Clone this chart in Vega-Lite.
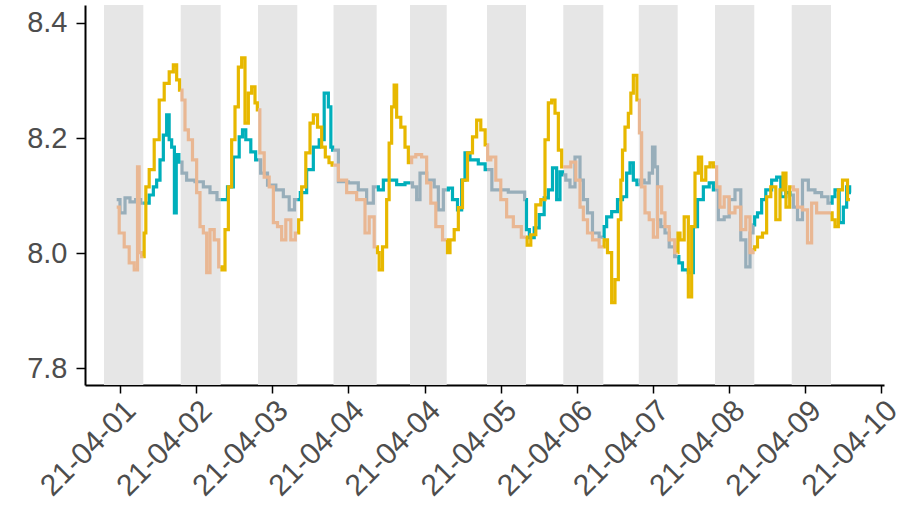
{
  "$schema": "https://vega.github.io/schema/vega-lite/v6.json",
  "width": 799,
  "height": 380,
  "autosize": {"type": "none"},
  "padding": {"left": 85, "top": 5, "right": 38, "bottom": 127},
  "background": "white",
  "config": {"view": {"stroke": null}, "font": "Liberation Sans"},
  "datasets": {
    "bands": [
      {"start": 3.86, "end": 15.01},
      {"start": 25.62, "end": 36.96},
      {"start": 47.54, "end": 58.69},
      {"start": 68.96, "end": 81.21},
      {"start": 90.66, "end": 101.07},
      {"start": 112.5, "end": 123.56},
      {"start": 134.14, "end": 145.49},
      {"start": 155.56, "end": 166.59},
      {"start": 177.17, "end": 188.32},
      {"start": 198.93, "end": 210.07}
    ],
    "ph": [
      {"t": 7.46, "v": 8.093, "g": "A-dark", "d": 1},
      {"t": 9.34, "v": 8.070, "g": "A-dark", "d": 1},
      {"t": 10.30, "v": 8.096, "g": "A-dark", "d": 1},
      {"t": 12.17, "v": 8.089, "g": "A-dark", "d": 1},
      {"t": 13.50, "v": 8.093, "g": "A-dark", "d": 1},
      {"t": 15.01, "v": 8.087, "g": "A-dark", "d": 1},
      {"t": 15.01, "v": 8.087, "g": "A-light", "d": 1},
      {"t": 15.97, "v": 8.087, "g": "A-light", "d": 1},
      {"t": 17.39, "v": 8.101, "g": "A-light", "d": 1},
      {"t": 18.33, "v": 8.115, "g": "A-light", "d": 1},
      {"t": 19.26, "v": 8.127, "g": "A-light", "d": 1},
      {"t": 20.23, "v": 8.162, "g": "A-light", "d": 1},
      {"t": 21.16, "v": 8.205, "g": "A-light", "d": 1},
      {"t": 22.10, "v": 8.240, "g": "A-light", "d": 1},
      {"t": 22.58, "v": 8.197, "g": "A-light", "d": 1},
      {"t": 23.52, "v": 8.184, "g": "A-light", "d": 1},
      {"t": 24.14, "v": 8.070, "g": "A-light", "d": 1},
      {"t": 24.57, "v": 8.171, "g": "A-light", "d": 1},
      {"t": 25.62, "v": 8.158, "g": "A-light", "d": 1},
      {"t": 25.62, "v": 8.158, "g": "A-dark", "d": 2},
      {"t": 26.35, "v": 8.139, "g": "A-dark", "d": 2},
      {"t": 28.25, "v": 8.127, "g": "A-dark", "d": 2},
      {"t": 31.09, "v": 8.124, "g": "A-dark", "d": 2},
      {"t": 32.99, "v": 8.115, "g": "A-dark", "d": 2},
      {"t": 34.86, "v": 8.105, "g": "A-dark", "d": 2},
      {"t": 36.96, "v": 8.093, "g": "A-dark", "d": 2},
      {"t": 36.96, "v": 8.093, "g": "A-light", "d": 2},
      {"t": 38.18, "v": 8.093, "g": "A-light", "d": 2},
      {"t": 39.60, "v": 8.115, "g": "A-light", "d": 2},
      {"t": 41.50, "v": 8.167, "g": "A-light", "d": 2},
      {"t": 42.92, "v": 8.202, "g": "A-light", "d": 2},
      {"t": 43.37, "v": 8.214, "g": "A-light", "d": 2},
      {"t": 44.79, "v": 8.197, "g": "A-light", "d": 2},
      {"t": 46.21, "v": 8.176, "g": "A-light", "d": 2},
      {"t": 47.54, "v": 8.162, "g": "A-light", "d": 2},
      {"t": 47.54, "v": 8.162, "g": "A-dark", "d": 3},
      {"t": 49.05, "v": 8.139, "g": "A-dark", "d": 3},
      {"t": 51.43, "v": 8.118, "g": "A-dark", "d": 3},
      {"t": 53.78, "v": 8.110, "g": "A-dark", "d": 3},
      {"t": 55.68, "v": 8.098, "g": "A-dark", "d": 3},
      {"t": 57.10, "v": 8.075, "g": "A-dark", "d": 3},
      {"t": 58.69, "v": 8.093, "g": "A-dark", "d": 3},
      {"t": 58.69, "v": 8.093, "g": "A-light", "d": 3},
      {"t": 60.39, "v": 8.105, "g": "A-light", "d": 3},
      {"t": 62.29, "v": 8.145, "g": "A-light", "d": 3},
      {"t": 64.19, "v": 8.184, "g": "A-light", "d": 3},
      {"t": 65.61, "v": 8.197, "g": "A-light", "d": 3},
      {"t": 67.03, "v": 8.278, "g": "A-light", "d": 3},
      {"t": 67.97, "v": 8.254, "g": "A-light", "d": 3},
      {"t": 68.45, "v": 8.184, "g": "A-light", "d": 3},
      {"t": 68.96, "v": 8.179, "g": "A-light", "d": 3},
      {"t": 68.96, "v": 8.179, "g": "A-dark", "d": 4},
      {"t": 71.74, "v": 8.124, "g": "A-dark", "d": 4},
      {"t": 74.58, "v": 8.122, "g": "A-dark", "d": 4},
      {"t": 77.41, "v": 8.110, "g": "A-dark", "d": 4},
      {"t": 79.31, "v": 8.087, "g": "A-dark", "d": 4},
      {"t": 81.21, "v": 8.115, "g": "A-dark", "d": 4},
      {"t": 81.21, "v": 8.115, "g": "A-light", "d": 4},
      {"t": 82.15, "v": 8.110, "g": "A-light", "d": 4},
      {"t": 84.05, "v": 8.127, "g": "A-light", "d": 4},
      {"t": 85.92, "v": 8.127, "g": "A-light", "d": 4},
      {"t": 87.82, "v": 8.119, "g": "A-light", "d": 4},
      {"t": 90.66, "v": 8.122, "g": "A-light", "d": 4},
      {"t": 90.66, "v": 8.122, "g": "A-dark", "d": 5},
      {"t": 92.08, "v": 8.115, "g": "A-dark", "d": 5},
      {"t": 93.01, "v": 8.093, "g": "A-dark", "d": 5},
      {"t": 93.98, "v": 8.139, "g": "A-dark", "d": 5},
      {"t": 96.81, "v": 8.127, "g": "A-dark", "d": 5},
      {"t": 98.23, "v": 8.115, "g": "A-dark", "d": 5},
      {"t": 99.17, "v": 8.075, "g": "A-dark", "d": 5},
      {"t": 101.07, "v": 8.110, "g": "A-dark", "d": 5},
      {"t": 101.07, "v": 8.110, "g": "A-light", "d": 5},
      {"t": 102.00, "v": 8.113, "g": "A-light", "d": 5},
      {"t": 103.42, "v": 8.093, "g": "A-light", "d": 5},
      {"t": 104.84, "v": 8.075, "g": "A-light", "d": 5},
      {"t": 105.78, "v": 8.127, "g": "A-light", "d": 5},
      {"t": 106.74, "v": 8.174, "g": "A-light", "d": 5},
      {"t": 108.61, "v": 8.162, "g": "A-light", "d": 5},
      {"t": 111.45, "v": 8.155, "g": "A-light", "d": 5},
      {"t": 112.50, "v": 8.145, "g": "A-light", "d": 5},
      {"t": 112.50, "v": 8.145, "g": "A-dark", "d": 6},
      {"t": 115.25, "v": 8.110, "g": "A-dark", "d": 6},
      {"t": 117.12, "v": 8.110, "g": "A-dark", "d": 6},
      {"t": 119.96, "v": 8.106, "g": "A-dark", "d": 6},
      {"t": 122.80, "v": 8.106, "g": "A-dark", "d": 6},
      {"t": 123.56, "v": 8.093, "g": "A-dark", "d": 6},
      {"t": 123.56, "v": 8.093, "g": "A-light", "d": 6},
      {"t": 123.84, "v": 8.041, "g": "A-light", "d": 6},
      {"t": 125.18, "v": 8.027, "g": "A-light", "d": 6},
      {"t": 126.60, "v": 8.044, "g": "A-light", "d": 6},
      {"t": 128.01, "v": 8.067, "g": "A-light", "d": 6},
      {"t": 129.43, "v": 8.096, "g": "A-light", "d": 6},
      {"t": 130.37, "v": 8.110, "g": "A-light", "d": 6},
      {"t": 131.79, "v": 8.148, "g": "A-light", "d": 6},
      {"t": 132.72, "v": 8.093, "g": "A-light", "d": 6},
      {"t": 133.69, "v": 8.141, "g": "A-light", "d": 6},
      {"t": 134.14, "v": 8.136, "g": "A-light", "d": 6},
      {"t": 134.14, "v": 8.136, "g": "A-dark", "d": 7},
      {"t": 135.56, "v": 8.127, "g": "A-dark", "d": 7},
      {"t": 136.52, "v": 8.115, "g": "A-dark", "d": 7},
      {"t": 138.40, "v": 8.167, "g": "A-dark", "d": 7},
      {"t": 139.36, "v": 8.127, "g": "A-dark", "d": 7},
      {"t": 140.30, "v": 8.093, "g": "A-dark", "d": 7},
      {"t": 141.71, "v": 8.070, "g": "A-dark", "d": 7},
      {"t": 143.13, "v": 8.035, "g": "A-dark", "d": 7},
      {"t": 145.49, "v": 8.028, "g": "A-dark", "d": 7},
      {"t": 145.49, "v": 8.028, "g": "A-light", "d": 7},
      {"t": 145.97, "v": 8.046, "g": "A-light", "d": 7},
      {"t": 146.91, "v": 8.063, "g": "A-light", "d": 7},
      {"t": 148.81, "v": 8.072, "g": "A-light", "d": 7},
      {"t": 150.22, "v": 8.093, "g": "A-light", "d": 7},
      {"t": 151.64, "v": 8.098, "g": "A-light", "d": 7},
      {"t": 152.58, "v": 8.139, "g": "A-light", "d": 7},
      {"t": 153.54, "v": 8.157, "g": "A-light", "d": 7},
      {"t": 154.48, "v": 8.127, "g": "A-light", "d": 7},
      {"t": 155.56, "v": 8.119, "g": "A-light", "d": 7},
      {"t": 155.56, "v": 8.119, "g": "A-dark", "d": 8},
      {"t": 156.38, "v": 8.127, "g": "A-dark", "d": 8},
      {"t": 157.80, "v": 8.122, "g": "A-dark", "d": 8},
      {"t": 159.22, "v": 8.139, "g": "A-dark", "d": 8},
      {"t": 159.67, "v": 8.184, "g": "A-dark", "d": 8},
      {"t": 160.63, "v": 8.150, "g": "A-dark", "d": 8},
      {"t": 161.09, "v": 8.058, "g": "A-dark", "d": 8},
      {"t": 162.51, "v": 8.046, "g": "A-dark", "d": 8},
      {"t": 163.47, "v": 8.035, "g": "A-dark", "d": 8},
      {"t": 164.89, "v": 8.011, "g": "A-dark", "d": 8},
      {"t": 166.59, "v": 7.994, "g": "A-dark", "d": 8},
      {"t": 166.59, "v": 7.994, "g": "A-light", "d": 8},
      {"t": 167.24, "v": 7.983, "g": "A-light", "d": 8},
      {"t": 168.66, "v": 7.971, "g": "A-light", "d": 8},
      {"t": 170.56, "v": 7.966, "g": "A-light", "d": 8},
      {"t": 171.50, "v": 8.046, "g": "A-light", "d": 8},
      {"t": 172.92, "v": 8.093, "g": "A-light", "d": 8},
      {"t": 174.82, "v": 8.115, "g": "A-light", "d": 8},
      {"t": 176.24, "v": 8.122, "g": "A-light", "d": 8},
      {"t": 177.17, "v": 8.110, "g": "A-light", "d": 8},
      {"t": 177.17, "v": 8.110, "g": "A-dark", "d": 9},
      {"t": 179.07, "v": 8.058, "g": "A-dark", "d": 9},
      {"t": 180.49, "v": 8.063, "g": "A-dark", "d": 9},
      {"t": 181.91, "v": 8.093, "g": "A-dark", "d": 9},
      {"t": 183.78, "v": 8.110, "g": "A-dark", "d": 9},
      {"t": 185.20, "v": 8.023, "g": "A-dark", "d": 9},
      {"t": 186.62, "v": 7.976, "g": "A-dark", "d": 9},
      {"t": 187.58, "v": 8.035, "g": "A-dark", "d": 9},
      {"t": 188.32, "v": 8.049, "g": "A-dark", "d": 9},
      {"t": 188.32, "v": 8.049, "g": "A-light", "d": 9},
      {"t": 188.52, "v": 8.063, "g": "A-light", "d": 9},
      {"t": 189.94, "v": 8.070, "g": "A-light", "d": 9},
      {"t": 190.87, "v": 8.093, "g": "A-light", "d": 9},
      {"t": 192.29, "v": 8.110, "g": "A-light", "d": 9},
      {"t": 194.19, "v": 8.127, "g": "A-light", "d": 9},
      {"t": 195.13, "v": 8.132, "g": "A-light", "d": 9},
      {"t": 196.54, "v": 8.098, "g": "A-light", "d": 9},
      {"t": 197.96, "v": 8.105, "g": "A-light", "d": 9},
      {"t": 198.93, "v": 8.101, "g": "A-light", "d": 9},
      {"t": 198.93, "v": 8.101, "g": "A-dark", "d": 10},
      {"t": 199.86, "v": 8.080, "g": "A-dark", "d": 10},
      {"t": 201.28, "v": 8.058, "g": "A-dark", "d": 10},
      {"t": 202.70, "v": 8.127, "g": "A-dark", "d": 10},
      {"t": 204.60, "v": 8.110, "g": "A-dark", "d": 10},
      {"t": 206.47, "v": 8.105, "g": "A-dark", "d": 10},
      {"t": 208.37, "v": 8.098, "g": "A-dark", "d": 10},
      {"t": 210.07, "v": 8.087, "g": "A-dark", "d": 10},
      {"t": 210.07, "v": 8.087, "g": "A-light", "d": 10},
      {"t": 210.73, "v": 8.098, "g": "A-light", "d": 10},
      {"t": 211.69, "v": 8.110, "g": "A-light", "d": 10},
      {"t": 213.11, "v": 8.053, "g": "A-light", "d": 10},
      {"t": 214.05, "v": 8.080, "g": "A-light", "d": 10},
      {"t": 214.98, "v": 8.115, "g": "A-light", "d": 10},
      {"t": 215.75, "v": 8.105, "g": "A-light", "d": 10},

      {"t": 7.46, "v": 8.080, "g": "B-dark", "d": 1},
      {"t": 8.88, "v": 8.035, "g": "B-dark", "d": 1},
      {"t": 10.30, "v": 8.011, "g": "B-dark", "d": 1},
      {"t": 11.72, "v": 7.983, "g": "B-dark", "d": 1},
      {"t": 13.14, "v": 7.971, "g": "B-dark", "d": 1},
      {"t": 13.59, "v": 8.150, "g": "B-dark", "d": 1},
      {"t": 14.07, "v": 8.001, "g": "B-dark", "d": 1},
      {"t": 15.01, "v": 7.994, "g": "B-dark", "d": 1},
      {"t": 15.01, "v": 7.994, "g": "B-light", "d": 1},
      {"t": 15.49, "v": 8.035, "g": "B-light", "d": 1},
      {"t": 15.97, "v": 8.115, "g": "B-light", "d": 1},
      {"t": 17.39, "v": 8.145, "g": "B-light", "d": 1},
      {"t": 18.81, "v": 8.197, "g": "B-light", "d": 1},
      {"t": 20.23, "v": 8.266, "g": "B-light", "d": 1},
      {"t": 21.65, "v": 8.295, "g": "B-light", "d": 1},
      {"t": 23.06, "v": 8.315, "g": "B-light", "d": 1},
      {"t": 24.00, "v": 8.327, "g": "B-light", "d": 1},
      {"t": 24.94, "v": 8.301, "g": "B-light", "d": 1},
      {"t": 25.62, "v": 8.283, "g": "B-light", "d": 1},
      {"t": 25.62, "v": 8.283, "g": "B-dark", "d": 2},
      {"t": 26.35, "v": 8.266, "g": "B-dark", "d": 2},
      {"t": 27.32, "v": 8.214, "g": "B-dark", "d": 2},
      {"t": 28.25, "v": 8.197, "g": "B-dark", "d": 2},
      {"t": 29.67, "v": 8.162, "g": "B-dark", "d": 2},
      {"t": 30.61, "v": 8.105, "g": "B-dark", "d": 2},
      {"t": 31.57, "v": 8.046, "g": "B-dark", "d": 2},
      {"t": 32.51, "v": 8.035, "g": "B-dark", "d": 2},
      {"t": 33.45, "v": 7.966, "g": "B-dark", "d": 2},
      {"t": 34.41, "v": 8.041, "g": "B-dark", "d": 2},
      {"t": 35.83, "v": 8.023, "g": "B-dark", "d": 2},
      {"t": 36.96, "v": 7.976, "g": "B-dark", "d": 2},
      {"t": 36.96, "v": 7.976, "g": "B-light", "d": 2},
      {"t": 37.70, "v": 7.971, "g": "B-light", "d": 2},
      {"t": 38.67, "v": 8.041, "g": "B-light", "d": 2},
      {"t": 39.60, "v": 8.115, "g": "B-light", "d": 2},
      {"t": 40.54, "v": 8.197, "g": "B-light", "d": 2},
      {"t": 41.50, "v": 8.254, "g": "B-light", "d": 2},
      {"t": 42.44, "v": 8.323, "g": "B-light", "d": 2},
      {"t": 43.37, "v": 8.339, "g": "B-light", "d": 2},
      {"t": 44.34, "v": 8.226, "g": "B-light", "d": 2},
      {"t": 45.27, "v": 8.278, "g": "B-light", "d": 2},
      {"t": 46.21, "v": 8.289, "g": "B-light", "d": 2},
      {"t": 47.17, "v": 8.261, "g": "B-light", "d": 2},
      {"t": 47.54, "v": 8.249, "g": "B-light", "d": 2},
      {"t": 47.54, "v": 8.249, "g": "B-dark", "d": 3},
      {"t": 48.59, "v": 8.174, "g": "B-dark", "d": 3},
      {"t": 50.01, "v": 8.132, "g": "B-dark", "d": 3},
      {"t": 51.43, "v": 8.115, "g": "B-dark", "d": 3},
      {"t": 52.37, "v": 8.053, "g": "B-dark", "d": 3},
      {"t": 53.78, "v": 8.046, "g": "B-dark", "d": 3},
      {"t": 54.72, "v": 8.023, "g": "B-dark", "d": 3},
      {"t": 56.14, "v": 8.058, "g": "B-dark", "d": 3},
      {"t": 57.56, "v": 8.023, "g": "B-dark", "d": 3},
      {"t": 58.69, "v": 8.035, "g": "B-dark", "d": 3},
      {"t": 58.69, "v": 8.035, "g": "B-light", "d": 3},
      {"t": 59.46, "v": 8.058, "g": "B-light", "d": 3},
      {"t": 60.39, "v": 8.115, "g": "B-light", "d": 3},
      {"t": 61.81, "v": 8.174, "g": "B-light", "d": 3},
      {"t": 62.78, "v": 8.226, "g": "B-light", "d": 3},
      {"t": 63.71, "v": 8.240, "g": "B-light", "d": 3},
      {"t": 65.13, "v": 8.219, "g": "B-light", "d": 3},
      {"t": 66.07, "v": 8.184, "g": "B-light", "d": 3},
      {"t": 67.20, "v": 8.167, "g": "B-light", "d": 3},
      {"t": 68.16, "v": 8.157, "g": "B-light", "d": 3},
      {"t": 68.96, "v": 8.153, "g": "B-light", "d": 3},
      {"t": 68.96, "v": 8.153, "g": "B-dark", "d": 4},
      {"t": 71.74, "v": 8.127, "g": "B-dark", "d": 4},
      {"t": 73.64, "v": 8.105, "g": "B-dark", "d": 4},
      {"t": 77.41, "v": 8.093, "g": "B-dark", "d": 4},
      {"t": 78.38, "v": 8.035, "g": "B-dark", "d": 4},
      {"t": 79.79, "v": 8.063, "g": "B-dark", "d": 4},
      {"t": 81.21, "v": 8.011, "g": "B-dark", "d": 4},
      {"t": 81.21, "v": 8.011, "g": "B-light", "d": 4},
      {"t": 81.67, "v": 8.001, "g": "B-light", "d": 4},
      {"t": 82.15, "v": 7.971, "g": "B-light", "d": 4},
      {"t": 83.57, "v": 8.011, "g": "B-light", "d": 4},
      {"t": 84.50, "v": 8.093, "g": "B-light", "d": 4},
      {"t": 84.98, "v": 8.191, "g": "B-light", "d": 4},
      {"t": 85.92, "v": 8.254, "g": "B-light", "d": 4},
      {"t": 86.40, "v": 8.292, "g": "B-light", "d": 4},
      {"t": 87.34, "v": 8.236, "g": "B-light", "d": 4},
      {"t": 88.76, "v": 8.219, "g": "B-light", "d": 4},
      {"t": 89.72, "v": 8.184, "g": "B-light", "d": 4},
      {"t": 90.66, "v": 8.157, "g": "B-light", "d": 4},
      {"t": 90.66, "v": 8.157, "g": "B-dark", "d": 5},
      {"t": 91.59, "v": 8.167, "g": "B-dark", "d": 5},
      {"t": 93.01, "v": 8.171, "g": "B-dark", "d": 5},
      {"t": 94.91, "v": 8.167, "g": "B-dark", "d": 5},
      {"t": 95.85, "v": 8.122, "g": "B-dark", "d": 5},
      {"t": 97.27, "v": 8.087, "g": "B-dark", "d": 5},
      {"t": 98.69, "v": 8.046, "g": "B-dark", "d": 5},
      {"t": 101.07, "v": 8.023, "g": "B-dark", "d": 5},
      {"t": 101.07, "v": 8.023, "g": "B-light", "d": 5},
      {"t": 101.52, "v": 8.001, "g": "B-light", "d": 5},
      {"t": 102.49, "v": 8.023, "g": "B-light", "d": 5},
      {"t": 103.90, "v": 8.041, "g": "B-light", "d": 5},
      {"t": 104.84, "v": 8.079, "g": "B-light", "d": 5},
      {"t": 106.26, "v": 8.127, "g": "B-light", "d": 5},
      {"t": 107.68, "v": 8.174, "g": "B-light", "d": 5},
      {"t": 109.10, "v": 8.202, "g": "B-light", "d": 5},
      {"t": 110.03, "v": 8.231, "g": "B-light", "d": 5},
      {"t": 111.45, "v": 8.214, "g": "B-light", "d": 5},
      {"t": 112.50, "v": 8.188, "g": "B-light", "d": 5},
      {"t": 112.50, "v": 8.188, "g": "B-dark", "d": 6},
      {"t": 112.87, "v": 8.162, "g": "B-dark", "d": 6},
      {"t": 114.29, "v": 8.167, "g": "B-dark", "d": 6},
      {"t": 115.70, "v": 8.127, "g": "B-dark", "d": 6},
      {"t": 117.12, "v": 8.093, "g": "B-dark", "d": 6},
      {"t": 119.02, "v": 8.063, "g": "B-dark", "d": 6},
      {"t": 120.92, "v": 8.046, "g": "B-dark", "d": 6},
      {"t": 123.56, "v": 8.028, "g": "B-dark", "d": 6},
      {"t": 123.56, "v": 8.028, "g": "B-light", "d": 6},
      {"t": 124.21, "v": 8.014, "g": "B-light", "d": 6},
      {"t": 125.63, "v": 8.032, "g": "B-light", "d": 6},
      {"t": 127.05, "v": 8.084, "g": "B-light", "d": 6},
      {"t": 128.47, "v": 8.093, "g": "B-light", "d": 6},
      {"t": 129.43, "v": 8.197, "g": "B-light", "d": 6},
      {"t": 130.37, "v": 8.261, "g": "B-light", "d": 6},
      {"t": 131.31, "v": 8.266, "g": "B-light", "d": 6},
      {"t": 132.27, "v": 8.243, "g": "B-light", "d": 6},
      {"t": 133.21, "v": 8.179, "g": "B-light", "d": 6},
      {"t": 134.14, "v": 8.150, "g": "B-light", "d": 6},
      {"t": 134.14, "v": 8.150, "g": "B-dark", "d": 7},
      {"t": 135.56, "v": 8.150, "g": "B-dark", "d": 7},
      {"t": 136.98, "v": 8.158, "g": "B-dark", "d": 7},
      {"t": 138.40, "v": 8.127, "g": "B-dark", "d": 7},
      {"t": 139.36, "v": 8.080, "g": "B-dark", "d": 7},
      {"t": 140.30, "v": 8.058, "g": "B-dark", "d": 7},
      {"t": 141.71, "v": 8.035, "g": "B-dark", "d": 7},
      {"t": 143.13, "v": 8.023, "g": "B-dark", "d": 7},
      {"t": 145.49, "v": 8.011, "g": "B-dark", "d": 7},
      {"t": 145.49, "v": 8.011, "g": "B-light", "d": 7},
      {"t": 145.97, "v": 8.023, "g": "B-light", "d": 7},
      {"t": 147.39, "v": 8.001, "g": "B-light", "d": 7},
      {"t": 148.32, "v": 7.914, "g": "B-light", "d": 7},
      {"t": 149.29, "v": 7.954, "g": "B-light", "d": 7},
      {"t": 150.22, "v": 8.058, "g": "B-light", "d": 7},
      {"t": 150.71, "v": 8.127, "g": "B-light", "d": 7},
      {"t": 151.16, "v": 8.179, "g": "B-light", "d": 7},
      {"t": 152.12, "v": 8.219, "g": "B-light", "d": 7},
      {"t": 153.06, "v": 8.243, "g": "B-light", "d": 7},
      {"t": 153.54, "v": 8.278, "g": "B-light", "d": 7},
      {"t": 154.48, "v": 8.309, "g": "B-light", "d": 7},
      {"t": 155.56, "v": 8.266, "g": "B-light", "d": 7},
      {"t": 155.56, "v": 8.266, "g": "B-dark", "d": 8},
      {"t": 155.90, "v": 8.209, "g": "B-dark", "d": 8},
      {"t": 156.83, "v": 8.115, "g": "B-dark", "d": 8},
      {"t": 157.80, "v": 8.070, "g": "B-dark", "d": 8},
      {"t": 159.22, "v": 8.058, "g": "B-dark", "d": 8},
      {"t": 160.15, "v": 8.028, "g": "B-dark", "d": 8},
      {"t": 161.57, "v": 8.115, "g": "B-dark", "d": 8},
      {"t": 162.51, "v": 8.070, "g": "B-dark", "d": 8},
      {"t": 163.47, "v": 8.046, "g": "B-dark", "d": 8},
      {"t": 164.89, "v": 8.023, "g": "B-dark", "d": 8},
      {"t": 166.59, "v": 8.001, "g": "B-dark", "d": 8},
      {"t": 166.59, "v": 8.001, "g": "B-light", "d": 8},
      {"t": 166.76, "v": 8.035, "g": "B-light", "d": 8},
      {"t": 167.73, "v": 8.023, "g": "B-light", "d": 8},
      {"t": 169.14, "v": 8.063, "g": "B-light", "d": 8},
      {"t": 170.08, "v": 7.924, "g": "B-light", "d": 8},
      {"t": 171.02, "v": 8.046, "g": "B-light", "d": 8},
      {"t": 171.98, "v": 8.139, "g": "B-light", "d": 8},
      {"t": 172.92, "v": 8.167, "g": "B-light", "d": 8},
      {"t": 173.85, "v": 8.127, "g": "B-light", "d": 8},
      {"t": 175.27, "v": 8.150, "g": "B-light", "d": 8},
      {"t": 176.24, "v": 8.157, "g": "B-light", "d": 8},
      {"t": 177.17, "v": 8.150, "g": "B-light", "d": 8},
      {"t": 177.17, "v": 8.150, "g": "B-dark", "d": 9},
      {"t": 178.11, "v": 8.115, "g": "B-dark", "d": 9},
      {"t": 179.07, "v": 8.080, "g": "B-dark", "d": 9},
      {"t": 180.49, "v": 8.098, "g": "B-dark", "d": 9},
      {"t": 181.91, "v": 8.070, "g": "B-dark", "d": 9},
      {"t": 183.78, "v": 8.080, "g": "B-dark", "d": 9},
      {"t": 185.20, "v": 8.041, "g": "B-dark", "d": 9},
      {"t": 186.62, "v": 8.063, "g": "B-dark", "d": 9},
      {"t": 187.58, "v": 8.001, "g": "B-dark", "d": 9},
      {"t": 188.32, "v": 8.006, "g": "B-dark", "d": 9},
      {"t": 188.32, "v": 8.006, "g": "B-light", "d": 9},
      {"t": 188.52, "v": 8.011, "g": "B-light", "d": 9},
      {"t": 189.94, "v": 8.028, "g": "B-light", "d": 9},
      {"t": 191.35, "v": 8.035, "g": "B-light", "d": 9},
      {"t": 192.29, "v": 8.098, "g": "B-light", "d": 9},
      {"t": 193.71, "v": 8.115, "g": "B-light", "d": 9},
      {"t": 195.13, "v": 8.058, "g": "B-light", "d": 9},
      {"t": 196.09, "v": 8.110, "g": "B-light", "d": 9},
      {"t": 196.83, "v": 8.139, "g": "B-light", "d": 9},
      {"t": 197.79, "v": 8.080, "g": "B-light", "d": 9},
      {"t": 198.93, "v": 8.115, "g": "B-light", "d": 9},
      {"t": 198.93, "v": 8.115, "g": "B-dark", "d": 10},
      {"t": 199.86, "v": 8.110, "g": "B-dark", "d": 10},
      {"t": 201.28, "v": 8.080, "g": "B-dark", "d": 10},
      {"t": 202.70, "v": 8.075, "g": "B-dark", "d": 10},
      {"t": 204.12, "v": 8.018, "g": "B-dark", "d": 10},
      {"t": 205.05, "v": 8.087, "g": "B-dark", "d": 10},
      {"t": 206.95, "v": 8.070, "g": "B-dark", "d": 10},
      {"t": 210.07, "v": 8.070, "g": "B-dark", "d": 10},
      {"t": 210.07, "v": 8.070, "g": "B-light", "d": 10},
      {"t": 210.73, "v": 8.058, "g": "B-light", "d": 10},
      {"t": 211.69, "v": 8.046, "g": "B-light", "d": 10},
      {"t": 212.63, "v": 8.110, "g": "B-light", "d": 10},
      {"t": 214.05, "v": 8.127, "g": "B-light", "d": 10},
      {"t": 215.46, "v": 8.093, "g": "B-light", "d": 10}
    ]
  },
  "layer": [
    {
      "data": {"name": "bands"},
      "mark": {"type": "rect", "color": "#E6E6E6"},
      "encoding": {
        "x": {
          "field": "start",
          "type": "quantitative",
          "scale": {"domain": [-1.53, 225.11], "nice": false, "zero": false},
          "axis": {
            "title": null,
            "grid": false,
            "values": [8.4, 30, 51.6, 73.2, 94.8, 116.4, 138, 159.6, 181.2, 202.8, 224.4],
            "labelExpr": "timeFormat(time(datetime(2021, 3, 1)) + datum.value * 3600000, '%y-%m-%d')",
            "labelAngle": -45,
            "labelAlign": "right",
            "labelBaseline": "top",
            "labelFontSize": 30,
            "labelColor": "#4D4D4D",
            "labelPadding": 2,
            "labelLimit": 400,
            "labelOverlap": false,
            "labelBound": false,
            "labelFlush": false,
            "domainColor": "#000000",
            "domainWidth": 2,
            "tickColor": "#000000",
            "tickWidth": 1.5,
            "tickSize": 8
          }
        },
        "x2": {"field": "end"}
      }
    },
    {
      "data": {"name": "ph"},
      "mark": {"type": "line", "interpolate": "step", "strokeWidth": 3.2},
      "encoding": {
        "x": {"field": "t", "type": "quantitative"},
        "y": {
          "field": "v",
          "type": "quantitative",
          "scale": {"domain": [7.771, 8.431], "nice": false, "zero": false},
          "axis": {
            "title": null,
            "grid": false,
            "values": [7.8, 8.0, 8.2, 8.4],
            "format": ".1f",
            "labelFontSize": 29,
            "labelColor": "#4D4D4D",
            "labelPadding": 9,
            "labelFlush": false,
            "domainColor": "#000000",
            "domainWidth": 2,
            "tickColor": "#000000",
            "tickWidth": 1.5,
            "tickSize": 9
          }
        },
        "color": {
          "field": "g",
          "type": "nominal",
          "scale": {
            "domain": ["A-dark", "A-light", "B-dark", "B-light"],
            "range": ["#98AEBA", "#00AFBB", "#E9B793", "#E7B800"]
          },
          "legend": null
        },
        "detail": {"field": "d", "type": "nominal"}
      }
    }
  ]
}
